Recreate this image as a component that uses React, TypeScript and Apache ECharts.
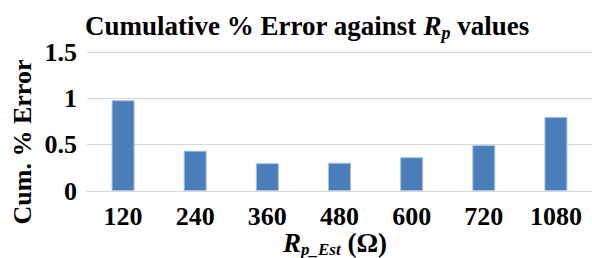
import React, { useEffect, useRef } from "react";
import * as echarts from "echarts";

const categories = ["120", "240", "360", "480", "600", "720", "1080"];
const errorValues = [0.98, 0.435, 0.3, 0.305, 0.365, 0.495, 0.8];
const yMin = 0;
const yMax = 1.5;
const yInterval = 0.5;

const FONT = "'Liberation Serif', 'Times New Roman', serif";

export default function App() {
  const ref = useRef<HTMLDivElement>(null);
  useEffect(() => {
    document.body.style.margin = "0";
    if (!ref.current) return;
    const chart = echarts.init(ref.current, null, { renderer: "svg" });
    chart.setOption({
      animation: false,
      backgroundColor: "#ffffff",
      grid: { left: 87, right: -10, top: 52, bottom: 67, containLabel: false },
      xAxis: {
        type: "category",
        data: categories,
        axisLine: { show: true, lineStyle: { color: "#d9d9d9", width: 1 } },
        axisTick: { show: false },
        axisLabel: {
          margin: 12,
          fontFamily: FONT,
          fontWeight: "bold",
          fontSize: 26,
          color: "#000",
          interval: 0,
        },
      },
      yAxis: {
        type: "value",
        min: yMin,
        max: yMax,
        interval: yInterval,
        axisLine: { show: false },
        axisTick: { show: false },
        splitLine: { show: true, lineStyle: { color: "#d9d9d9", width: 1 } },
        axisLabel: {
          margin: 10,
          fontFamily: FONT,
          fontWeight: "bold",
          fontSize: 26,
          color: "#000",
          formatter: (v: number) => String(v),
        },
      },
      series: [
        {
          type: "bar",
          data: errorValues,
          barWidth: 23,
          itemStyle: {
            color: "#4a7ebb",
            borderColor: "#a9c2e2",
            borderWidth: 1,
          },
        },
      ],
      graphic: [
        {
          type: "text",
          left: 85,
          top: 12,
          style: {
            text: "{a|Cumulative % Error against }{r|R}{s|p}{a| values}",
            rich: {
              a: { fontFamily: FONT, fontWeight: "bold", fontSize: 27, lineHeight: 32, fill: "#000" },
              r: { fontFamily: FONT, fontWeight: "bold", fontStyle: "italic", fontSize: 27, lineHeight: 32, fill: "#000" },
              s: { fontFamily: FONT, fontWeight: "bold", fontStyle: "italic", fontSize: 18, lineHeight: 17, verticalAlign: "bottom", fill: "#000" },
            },
          },
        },
        {
          type: "text",
          x: 22,
          y: 142,
          rotation: Math.PI / 2,
          style: {
            text: "Cum. % Error",
            fontFamily: FONT,
            fontWeight: "bold",
            fontSize: 26,
            fill: "#000",
            align: "center",
            verticalAlign: "middle",
          },
        },
        {
          type: "text",
          x: 335,
          y: 243,
          style: {
            text: "{r|R}{s|p_Est}{a| (Ω)}",
            align: "center",
            verticalAlign: "middle",
            rich: {
              a: { fontFamily: FONT, fontWeight: "bold", fontSize: 27, lineHeight: 30, fill: "#000" },
              r: { fontFamily: FONT, fontWeight: "bold", fontStyle: "italic", fontSize: 27, lineHeight: 30, fill: "#000" },
              s: { fontFamily: FONT, fontWeight: "bold", fontStyle: "italic", fontSize: 17, lineHeight: 15, verticalAlign: "bottom", fill: "#000" },
            },
          },
        },
      ],
    });
    return () => chart.dispose();
  }, []);
  return <div ref={ref} style={{ width: 592, height: 258 }} />;
}
